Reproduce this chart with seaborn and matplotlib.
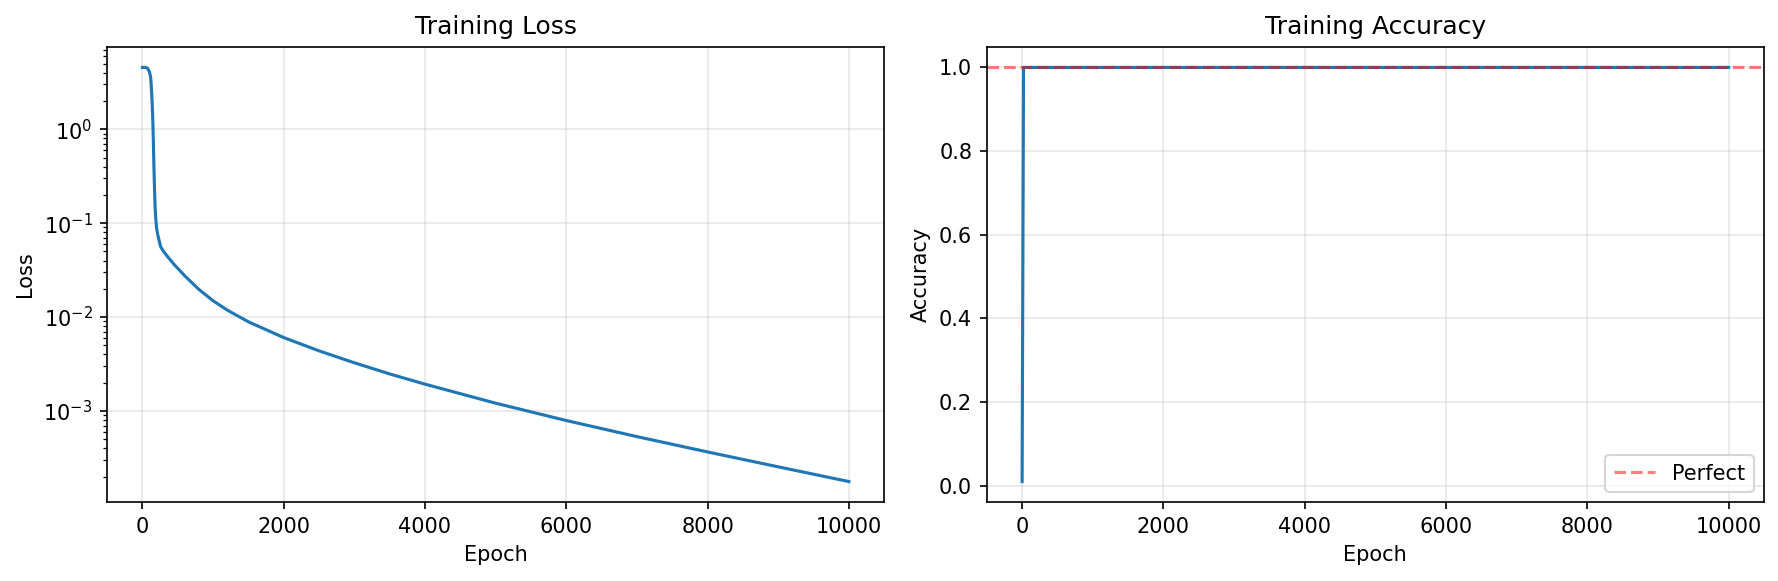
import pandas as pd
import numpy as np
import matplotlib
matplotlib.use('Agg')
import matplotlib.pyplot as plt
import seaborn as sns

# loss history (epoch, loss)
loss_epochs = [0, 40, 70, 100, 117, 130, 141, 150, 155, 162, 168, 174, 180, 190,
               202, 220, 240, 259, 300, 350, 450, 600, 800, 1000, 1200, 1500, 2000,
               2500, 3000, 3500, 4000, 5000, 6000, 7000, 8000, 9000, 10000]
loss_values = [4.56, 4.56, 4.5, 4.1, 3.6, 2.6, 1.74, 1.1, 0.77, 0.45, 0.3, 0.21, 0.15, 0.11,
               0.088, 0.074, 0.064, 0.056, 0.050, 0.0447, 0.0363, 0.0275, 0.0197, 0.01493,
               0.01189, 0.00891, 0.00605, 0.00437, 0.00326, 0.00248, 0.00193, 0.00121,
               0.000791, 0.000533, 0.000366, 0.000254, 0.000177]

# accuracy history
acc_epochs = [0, 20, 10000]
acc_values = [0.01, 1.0, 1.0]

loss_df = pd.DataFrame({'epoch': loss_epochs, 'loss': loss_values})
acc_df = pd.DataFrame({'epoch': acc_epochs, 'accuracy': acc_values})

fig, axes = plt.subplots(1, 2, figsize=(1778 / 150, 581 / 150), dpi=150)
fig.subplots_adjust(left=0.0602, right=0.9921, bottom=0.1355, top=0.9196, wspace=0.132)

# Loss
ax = axes[0]
sns.lineplot(data=loss_df, x='epoch', y='loss', ax=ax, color='#1f77b4')
ax.set_yscale('log')
ax.set_title('Training Loss')
ax.set_xlabel('Epoch')
ax.set_ylabel('Loss')
ax.grid(True, alpha=0.3)

# Accuracy
ax = axes[1]
sns.lineplot(data=acc_df, x='epoch', y='accuracy', ax=ax, color='#1f77b4')
ax.axhline(y=1.0, color='r', linestyle='--', alpha=0.5, label='Perfect')
ax.set_title('Training Accuracy')
ax.set_xlabel('Epoch')
ax.set_ylabel('Accuracy')
ax.legend(loc='lower right')
ax.grid(True, alpha=0.3)

fig.savefig('out.png', dpi=150)
plt.close(fig)
